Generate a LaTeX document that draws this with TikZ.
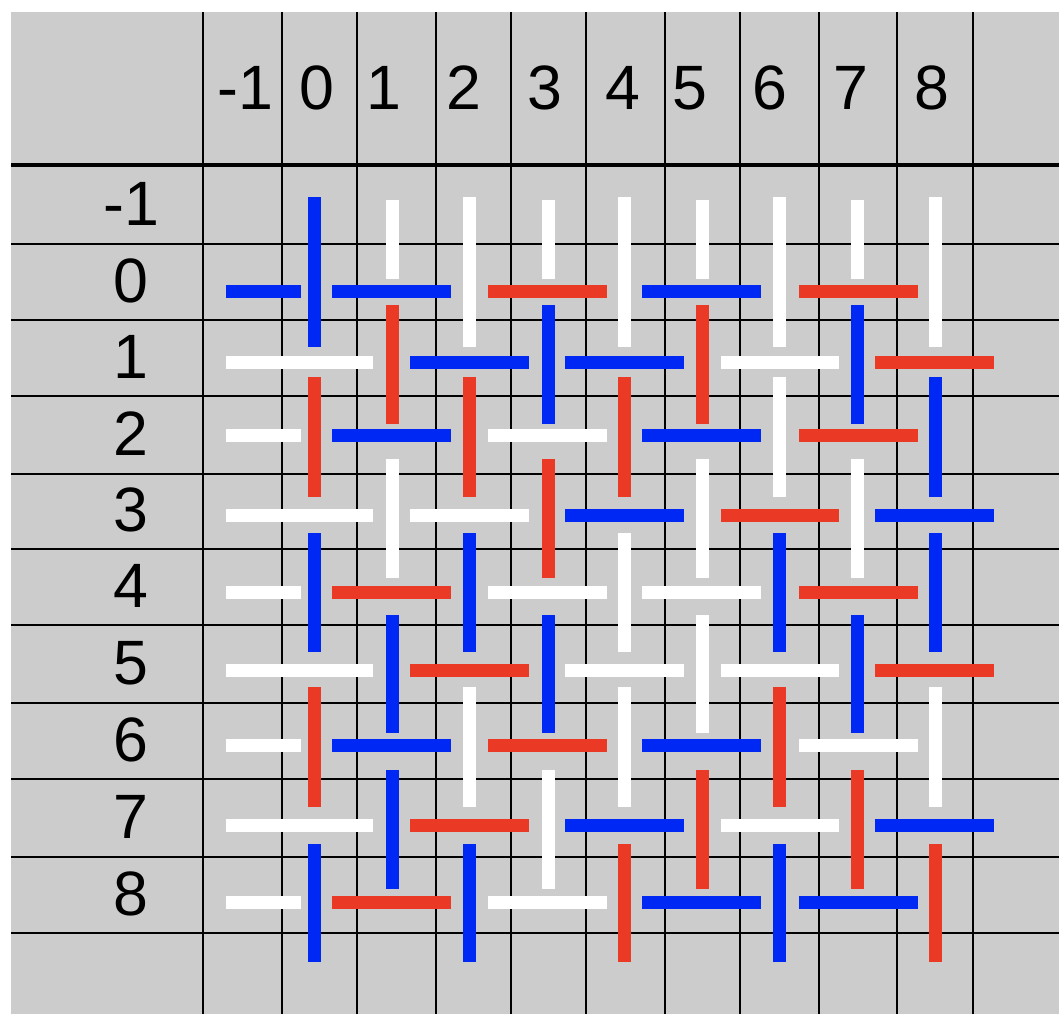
\documentclass[tikz,border=0pt]{standalone}
\usepackage{fontspec}
\setmainfont{Liberation Sans}

\definecolor{cellgray}{RGB}{204,204,204}
\definecolor{bl}{RGB}{0,40,245}
\definecolor{rd}{RGB}{234,57,36}

\begin{document}
\begin{tikzpicture}[x=0.75pt,y=-0.75pt,
    gridline/.style={line width=1.9pt,black},
    thread/.style={line width=9.75pt},
    lab/.style={font=\fontsize{47}{50}\selectfont,inner sep=0pt}]
  \useasboundingbox (0,0) rectangle (1059,1014);
  % Background
  \fill[cellgray] (11,12) rectangle (1059,1014);
  % Grid
  \foreach \x in {203,282,357,436,511,586,665,740,819,897,973}
    \draw[gridline] (\x,12) -- (\x,1014);
  \foreach \y in {244,320,396,474,549,625,703,779,857,933}
    \draw[gridline] (11,\y) -- (1059,\y);
  \draw[gridline,line width=2.4pt] (11,165) -- (1059,165);
  % Column labels
  \foreach \t/\x [count=\i] in {-1/245,0/317,1/384,2/464,3/545,4/623,5/690,6/770,7/851,8/932}
    \node[lab] (col\i) at (\x,88) {\t};
  % Row labels
  \foreach \t/\y [count=\i] in {-1/204,0/281,1/357,2/434,3/510,4/586,5/663,6/740,7/817,8/894}
    \node[lab] (row\i) at (131,\y) {\t};
  % Horizontal threads, even rows
  \foreach \y/\ca/\cb/\cc/\cd/\ce in {291/bl/bl/rd/bl/rd, 435/white/bl/white/bl/rd,
      592/white/rd/white/white/rd, 745/white/bl/rd/bl/white, 902/white/rd/white/bl/bl} {
    \draw[thread,color=\ca] (226,\y) -- (301,\y);
    \draw[thread,color=\cb] (332,\y) -- (451,\y);
    \draw[thread,color=\cc] (488,\y) -- (607,\y);
    \draw[thread,color=\cd] (642,\y) -- (761,\y);
    \draw[thread,color=\ce] (799,\y) -- (918,\y);
  }
  % Horizontal threads, odd rows
  \foreach \y/\ca/\cb/\cc/\cd/\ce in {362/white/bl/bl/white/rd, 515/white/white/bl/rd/bl,
      670/white/rd/white/white/rd, 825/white/rd/bl/white/bl} {
    \draw[thread,color=\ca] (226,\y) -- (373,\y);
    \draw[thread,color=\cb] (410,\y) -- (529,\y);
    \draw[thread,color=\cc] (565,\y) -- (684,\y);
    \draw[thread,color=\cd] (721,\y) -- (839,\y);
    \draw[thread,color=\ce] (875,\y) -- (994,\y);
  }
  % Vertical threads, even columns
  \foreach \x/\ca/\cb/\cc/\cd/\ce in {314/bl/rd/bl/rd/bl, 469/white/rd/bl/white/bl,
      624/white/rd/white/white/rd, 779/white/white/bl/rd/bl, 935/white/bl/bl/white/rd} {
    \draw[thread,color=\ca] (\x,197) -- (\x,347);
    \draw[thread,color=\cb] (\x,377) -- (\x,497);
    \draw[thread,color=\cc] (\x,533) -- (\x,652);
    \draw[thread,color=\cd] (\x,687) -- (\x,807);
    \draw[thread,color=\ce] (\x,844) -- (\x,962);
  }
  % Vertical threads, odd columns
  \foreach \x/\ca/\cb/\cc/\cd/\ce in {392/white/rd/white/bl/bl, 548/white/bl/rd/bl/white,
      702/white/rd/white/white/rd, 857/white/bl/white/bl/rd} {
    \draw[thread,color=\ca] (\x,200) -- (\x,279);
    \draw[thread,color=\cb] (\x,305) -- (\x,424);
    \draw[thread,color=\cc] (\x,459) -- (\x,578);
    \draw[thread,color=\cd] (\x,615) -- (\x,733);
    \draw[thread,color=\ce] (\x,770) -- (\x,889);
  }
\end{tikzpicture}
\end{document}
